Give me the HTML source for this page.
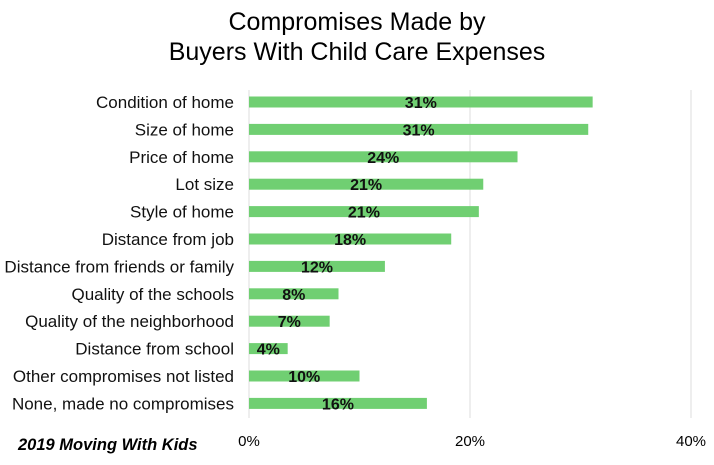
<!DOCTYPE html>
<html><head><meta charset="utf-8"><style>
body{margin:0;background:#fff;font-family:"Liberation Sans",sans-serif;}
svg text{font-family:"Liberation Sans",sans-serif;}
</style></head><body>
<svg width="714" height="460">
<text x="357" y="30" text-anchor="middle" font-size="25">Compromises Made by</text>
<text x="357" y="60" text-anchor="middle" font-size="25">Buyers With Child Care Expenses</text>
<g id="grid"></g><g id="bars"></g>
<text x="18" y="450" font-size="16.5" font-weight="bold" font-style="italic">2019 Moving With Kids</text>
</svg>
<script>
const categories=["Condition of home","Size of home","Price of home","Lot size","Style of home","Distance from job","Distance from friends or family","Quality of the schools","Quality of the neighborhood","Distance from school","Other compromises not listed","None, made no compromises"];
const values=[31.1,30.7,24.3,21.2,20.8,18.3,12.3,8.1,7.3,3.5,10,16.1];
const labels=["31%","31%","24%","21%","21%","18%","12%","8%","7%","4%","10%","16%"];
const ticks=[0,20,40];
const tickLabels=["0%","20%","40%"];
const NS="http://www.w3.org/2000/svg";
const x=v=>249+v*11.05;
const y=i=>102+i*27.4;
function mk(t,a,p){const e=document.createElementNS(NS,t);for(const k in a)e.setAttribute(k,a[k]);p.appendChild(e);return e;}
const g=document.getElementById('grid'),b=document.getElementById('bars'),svg=document.querySelector('svg');
ticks.forEach((t,i)=>{
 const l=mk('line',{x1:x(t),x2:x(t),y1:90,y2:418,stroke:'#dcdcdc','stroke-width':1},g);
 
 
 const tx=mk('text',{x:x(t),y:446,'text-anchor':'middle','font-size':15},svg);
 tx.textContent=tickLabels[i];
 
 
});
categories.forEach((c,i)=>{
 const r=mk('rect',{x:x(0),y:y(i)-5.5,width:x(values[i])-x(0),height:11,fill:'#70cf72'},b);
 
 
 const lt=mk('text',{x:(x(0)+x(values[i]))/2,y:y(i)+6,'text-anchor':'middle','font-size':16,'font-weight':'bold',fill:'#111'},b);
 lt.textContent=labels[i];
 
 
 const ct=mk('text',{x:234,y:y(i)+6,'text-anchor':'end','font-size':17,fill:'#111'},b);
 ct.textContent=c;
 
 
});
</script>
</body></html>
